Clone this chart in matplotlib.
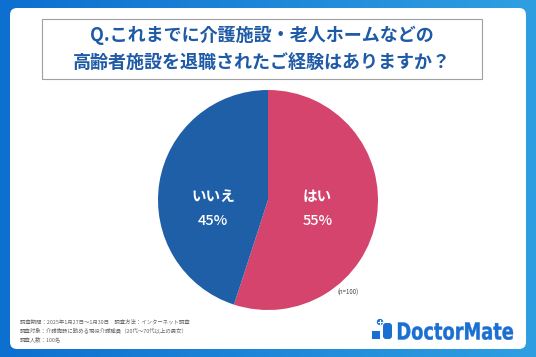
import numpy as np
import matplotlib
matplotlib.use("Agg")
from matplotlib import pyplot as plt
from matplotlib.patches import FancyBboxPatch, Rectangle, Circle, PathPatch
from matplotlib.textpath import TextPath
from matplotlib.font_manager import FontProperties
from matplotlib.transforms import Affine2D

plt.rcParams['font.family'] = ['Noto Sans CJK JP', 'DejaVu Sans']

# データ
labels = ['はい', 'いいえ']
values = [55, 45]
colors = ['#d4446c', '#1f5fa8']
title_lines = ['Q.これまでに介護施設・老人ホームなどの',
               '高齢者施設を退職されたご経験はありますか？']
notes = ['調査期間：2025年1月27日～1月30日　調査方法：インターネット調査',
         '調査対象：介護施設に勤める現役介護職員（20代～70代以上の男女）',
         '調査人数：100名']
n_label = '(n=100)'

W, H = 536, 357
fig = plt.figure(figsize=(W / 100, H / 100), dpi=100)

# 背景（ピクセル座標）
bg = fig.add_axes([0, 0, 1, 1])
bg.set_xlim(0, W)
bg.set_ylim(H, 0)
bg.axis('off')
grad = np.linspace(0, 1, 256).reshape(1, -1)
cmap = matplotlib.colors.LinearSegmentedColormap.from_list('bgc', ['#0d6fcf', '#2f9fe2'])
bg.imshow(grad, extent=[0, W, H, 0], aspect='auto', cmap=cmap, zorder=0)
bg.add_patch(FancyBboxPatch((10, 8), 516, 341, boxstyle='round,pad=0,rounding_size=7',
                            fc='white', ec='none', zorder=1))
bg.add_patch(Rectangle((42, 19), 440, 60, fc='white', ec='#a0a0a0', lw=0.8, zorder=2))
bg.text(262, 35, title_lines[0], ha='center', va='center', fontsize=13,
        fontweight='bold', color='#1f5aa6', zorder=3)
bg.text(262, 62, title_lines[1], ha='center', va='center', fontsize=13,
        fontweight='bold', color='#1f5aa6', zorder=3)

for i, t in enumerate(notes):
    bg.text(20, 322 + i * 8.5, t, ha='left', va='center', fontsize=3.9,
            color='#666666', zorder=3)
bg.text(348, 293, n_label, ha='center', va='center', fontsize=4.4,
        color='#444444', zorder=3)

# ロゴ（横幅を詰めた太字）
logo_c = '#1a6fd0'
fp = FontProperties(family='DejaVu Sans', weight='bold')
tp = TextPath((0, 0), 'DoctorMate', size=10, prop=fp)
cap = TextPath((0, 0), 'D', size=10, prop=fp).get_extents().height
ext = tp.get_extents()
sx = 115 / ext.width
sy = 17 / cap
tr = Affine2D().translate(-ext.x0, 0).scale(sx, -sy).translate(398, 339.5) + bg.transData
bg.add_patch(PathPatch(tp, fc=logo_c, ec=logo_c, lw=0.3, transform=tr, zorder=3))
bg.add_patch(Circle((380, 322), 3.2, fc=logo_c, ec='none', zorder=3))
bg.plot([380, 380], [319.8, 324.2], color='white', lw=0.8, zorder=4)
bg.plot([377.8, 382.2], [322, 322], color='white', lw=0.8, zorder=4)
bg.add_patch(FancyBboxPatch((383, 323), 9, 16, boxstyle='round,pad=0,rounding_size=3',
                            fc=logo_c, ec='none', zorder=3))
bg.add_patch(Rectangle((372, 331), 8, 8, fc=logo_c, ec='none', zorder=3))

# 円グラフ
cx, cy, r = 268, 200, 110
ax = fig.add_axes([(cx - r) / W, (H - cy - r) / H, 2 * r / W, 2 * r / H])
ax.pie(values, colors=colors, startangle=90, counterclock=False,
       wedgeprops=dict(linewidth=0))
ax.set_aspect('equal')
ax.set_xlim(-1, 1)
ax.set_ylim(-1, 1)
pos = [0.45, -0.5]
for lab, v, x in zip(labels, values, pos):
    ax.text(x, 0.04, lab, ha='center', va='center', fontsize=10.5,
            fontweight='bold', color='white')
    ax.text(x, -0.19, f'{v}%', ha='center', va='center', fontsize=10.5,
            fontweight='medium', color='white')

fig.savefig('out.png', dpi=100)
